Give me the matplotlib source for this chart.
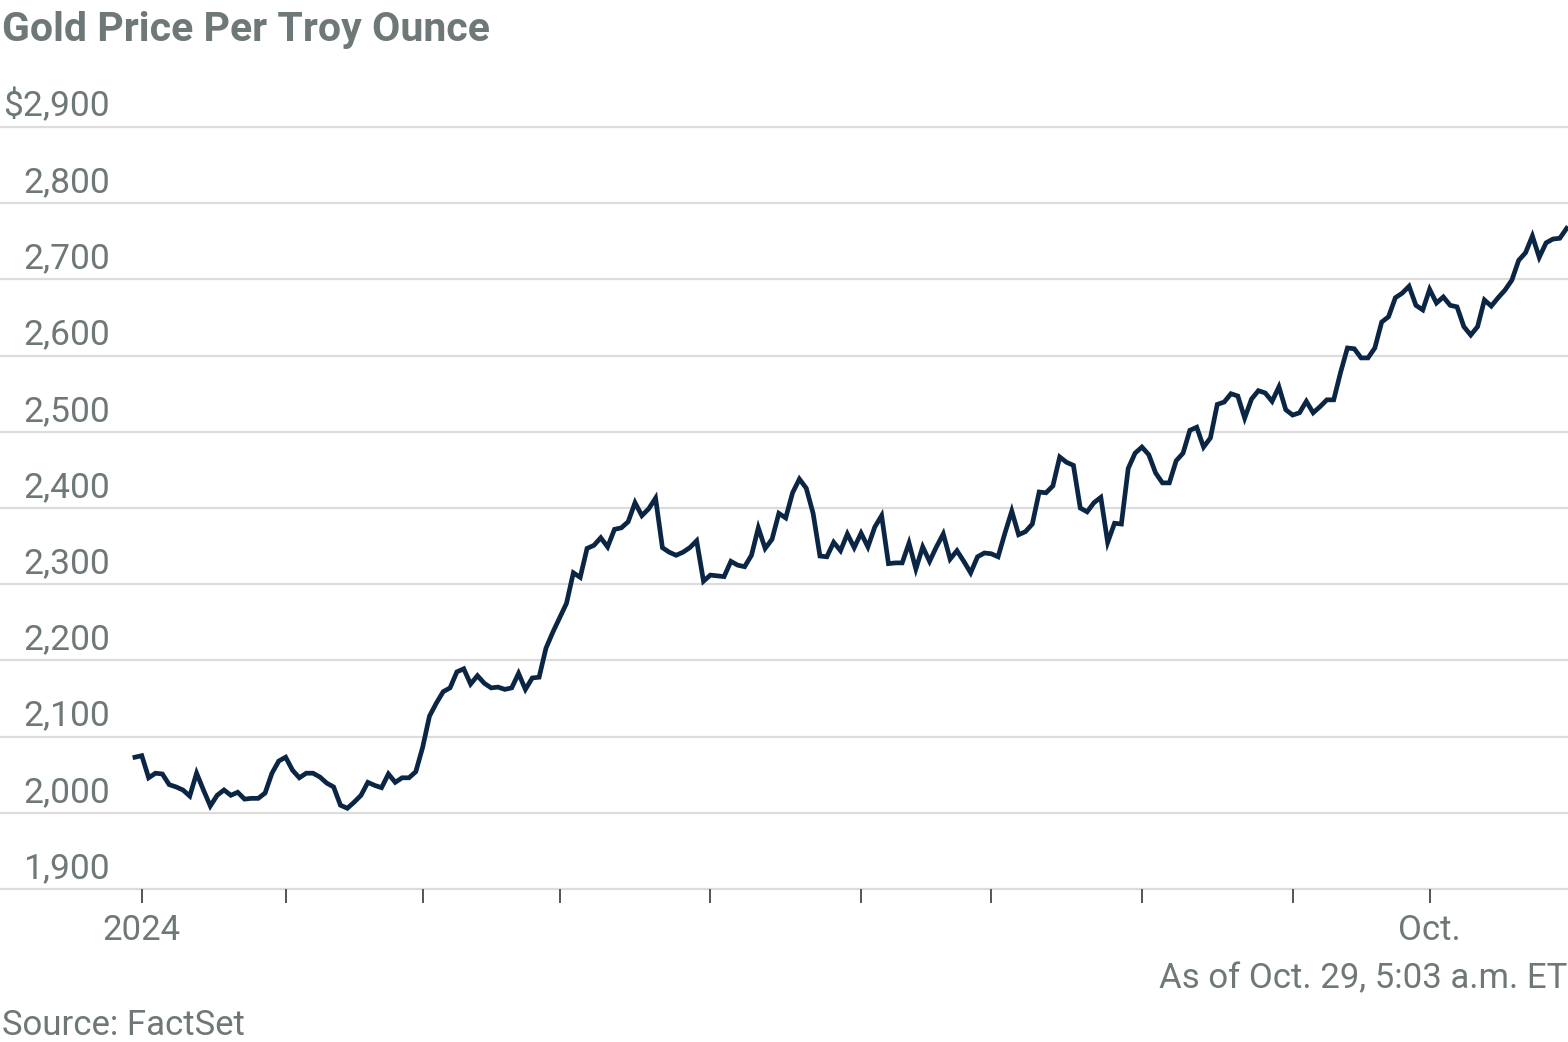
import matplotlib
matplotlib.use('Agg')
import matplotlib.pyplot as plt
import numpy as np
import pandas as pd

# gold close, last close of 2023 then every 2024 trading day to Oct. 29
prices = [
    2073, 2075, 2046, 2052, 2051, 2037, 2034, 2030, 2022, 2052,
    2030, 2009, 2023, 2030, 2023, 2027, 2018, 2019, 2019, 2026,
    2052, 2068, 2073, 2056, 2046, 2052, 2052, 2047, 2039, 2034,
    2010, 2006, 2014, 2023, 2040, 2036, 2033, 2051, 2040, 2046,
    2046, 2054, 2086, 2127, 2144, 2159, 2164, 2185, 2189, 2169,
    2180, 2170, 2164, 2165, 2162, 2164, 2183, 2162, 2177, 2178,
    2216, 2237, 2256, 2275, 2315, 2309, 2347, 2351, 2361, 2349,
    2372, 2374, 2382, 2407, 2390, 2399, 2413, 2348, 2342, 2338,
    2342, 2348, 2357, 2304, 2312, 2311, 2310, 2330, 2325, 2323,
    2338, 2374, 2347, 2359, 2393, 2387, 2420, 2438, 2426, 2393,
    2337, 2336, 2355, 2344, 2366, 2348, 2367, 2349, 2375, 2390,
    2327, 2328, 2328, 2354, 2320, 2349, 2330, 2349, 2366, 2333,
    2344, 2330, 2315, 2336, 2341, 2340, 2336, 2367, 2396, 2365,
    2369, 2379, 2421, 2420, 2429, 2467, 2460, 2456, 2400, 2395,
    2407, 2414, 2355, 2380, 2379, 2452, 2472, 2480, 2470, 2446,
    2433, 2433, 2462, 2472, 2502, 2506, 2480, 2492, 2536, 2539,
    2550, 2547, 2518, 2543, 2554, 2551, 2540, 2559, 2529, 2522,
    2525, 2540, 2525, 2533, 2542, 2542, 2578, 2610, 2609, 2597,
    2597, 2610, 2644, 2651, 2676, 2682, 2691, 2666, 2660, 2687,
    2669, 2677, 2666, 2664, 2638, 2627, 2638, 2673, 2665, 2676,
    2686, 2699, 2725, 2735, 2757, 2729, 2748, 2753, 2754, 2767,
]

holidays = ['2024-01-15', '2024-02-19', '2024-03-29', '2024-05-27',
            '2024-06-19', '2024-07-04', '2024-09-02']
days = pd.bdate_range('2024-01-02', '2024-10-29')
days = days[~days.isin(pd.to_datetime(holidays))]
dates = pd.DatetimeIndex([pd.Timestamp('2023-12-29')]).append(days)

y_ticks = [1900, 2000, 2100, 2200, 2300, 2400, 2500, 2600, 2700, 2800, 2900]
y_labels = ['1,900', '2,000', '2,100', '2,200', '2,300', '2,400',
            '2,500', '2,600', '2,700', '2,800', '$2,900']

title = 'Gold Price Per Troy Ounce'
note = 'As of Oct. 29, 5:03 a.m. ET'
source = 'Source: FactSet'

grey = '#6f7878'
grid = '#dcdcdc'
navy = '#0b2545'

plt.rcParams['font.family'] = ['Roboto', 'DejaVu Sans']

x = np.arange(len(prices))
# first trading day of each month sits on a tick
month_start = [int(np.argmax((dates.month == m) & (dates.year == 2024)))
               for m in range(1, 11)]
tick_text = ['2024'] + [''] * 8 + ['Oct.']

fig = plt.figure(figsize=(15.68, 10.42), dpi=100)
ax = fig.add_axes([0, 0.1468, 1, 0.7313])

for v, lab in zip(y_ticks, y_labels):
    ax.axhline(v, color=grid, lw=1.6, clip_on=False, zorder=1)
    ax.annotate(lab, xy=(110, v), xycoords=('figure pixels', 'data'),
                xytext=(0, 8), textcoords='offset points',
                ha='right', va='baseline', fontsize=25.5, color=grey)

ax.plot(x, prices, color=navy, lw=3.4, solid_joinstyle='miter', zorder=3)

ax.set_xlim(-19.7, 209.2)
ax.set_ylim(1900, 2900)
for s in ax.spines.values():
    s.set_visible(False)
ax.set_yticks([])
ax.set_xticks(month_start)
ax.set_xticklabels(tick_text)
ax.tick_params(axis='x', length=10, width=1.4, color='#555555',
               pad=8, labelsize=25, labelcolor=grey)

fig.text(0.001, 0.971, title, fontsize=29.5, fontweight='bold', color=grey,
         ha='left', va='center')
fig.text(0.9995, 0.061, note, fontsize=25, color=grey, ha='right', va='center')
fig.text(0.001, 0.016, source, fontsize=25, color=grey, ha='left', va='center')

fig.savefig('out.png', dpi=100)
